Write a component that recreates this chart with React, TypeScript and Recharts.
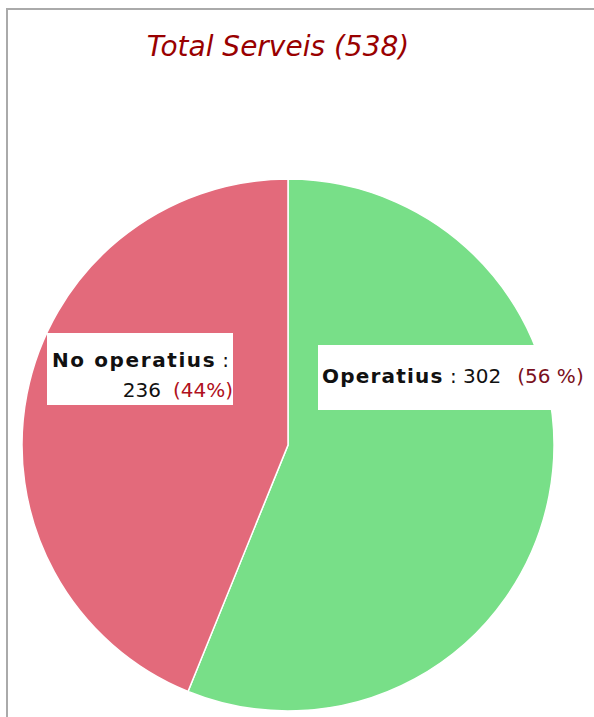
import React from 'react';
import { PieChart, Pie, Cell } from 'recharts';

const labels = ['Operatius', 'No operatius'];
const values = [302, 236];
const colors = ['#78df88', '#e36a7b'];
const title = 'Total Serveis (538)';

const data = labels.map((name, i) => ({ name, value: values[i], color: colors[i] }));

const font = '"DejaVu Sans", Verdana, sans-serif';

function renderLabel(props: any) {
  const { cx, cy, midAngle, name, value, percent } = props;
  const pct = Math.round(percent * 100);
  const right = Math.cos((-midAngle * Math.PI) / 180) >= 0;
  if (right) {
    return (
      <g>
        <rect x={cx + 30} y={cy - 100} width={272} height={65} fill="#ffffff" stroke="none" />
        <text x={cx + 34} y={cy - 62} fontFamily={font} fontSize={20} fill="#111">
          <tspan fontWeight="bold" letterSpacing={1.2}>{name}</tspan>
          <tspan> : {value}</tspan>
          <tspan fill="#7a1020" dx={16}>({pct} %)</tspan>
        </text>
      </g>
    );
  }
  return (
    <g>
      <rect x={cx - 241} y={cy - 112} width={186} height={72} fill="#ffffff" stroke="none" />
      <text x={cx - 236} y={cy - 78} fontFamily={font} fontSize={20} fill="#111">
        <tspan fontWeight="bold" letterSpacing={1.6}>{name}</tspan>
        <tspan dx={6}>:</tspan>
      </text>
      <text x={cx - 55} y={cy - 48} fontFamily={font} fontSize={20} fill="#111" textAnchor="end">
        <tspan>{value}</tspan>
        <tspan fill="#b01020" dx={12}>({pct}%)</tspan>
      </text>
    </g>
  );
}

export default function App() {
  return (
    <div style={{ position: 'absolute', left: 0, top: 0, width: 594, height: 717, background: '#fff', overflow: 'hidden' }}>
      <div style={{ position: 'absolute', left: 6, top: 8, right: 0, height: 0, borderTop: '2px solid #aaa' }} />
      <div style={{ position: 'absolute', left: 6, top: 8, bottom: 0, width: 0, borderLeft: '2px solid #aaa' }} />
      <div
        style={{
          position: 'absolute',
          left: 0,
          top: 30,
          width: 556,
          textAlign: 'center',
          fontFamily: font,
          fontStyle: 'italic',
          fontSize: 28,
          color: '#990000',
        }}
      >
        {title}
      </div>
      <div style={{ position: 'absolute', left: 0, top: 0 }}>
        <PieChart width={594} height={717} margin={{ top: 0, right: 0, bottom: 0, left: 0 }}>
          <Pie
            data={data}
            dataKey="value"
            nameKey="name"
            cx={288}
            cy={445}
            outerRadius={266}
            startAngle={90}
            endAngle={-270}
            stroke="#ffffff"
            strokeWidth={1.5}
            labelLine={false}
            label={renderLabel}
            isAnimationActive={false}
          >
            {data.map((d, i) => (
              <Cell key={i} fill={d.color} />
            ))}
          </Pie>
        </PieChart>
      </div>
    </div>
  );
}
